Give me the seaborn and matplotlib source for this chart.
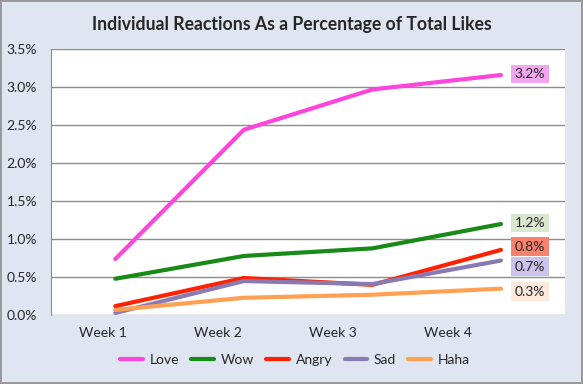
import numpy as np
import pandas as pd
import seaborn as sns
import matplotlib.pyplot as plt

# data (percent of total likes)
weeks = ['Week 1', 'Week 2', 'Week 3', 'Week 4']
love = [0.74, 2.44, 2.97, 3.16]
wow = [0.48, 0.78, 0.88, 1.20]
angry = [0.12, 0.49, 0.40, 0.86]
sad = [0.03, 0.45, 0.41, 0.72]
haha = [0.07, 0.23, 0.27, 0.35]
end_labels = ['3.2%', '1.2%', '0.8%', '0.7%', '0.3%']

series = {'Love': love, 'Wow': wow, 'Angry': angry, 'Sad': sad, 'Haha': haha}
colors = {'Love': '#ff44dd', 'Wow': '#188a18', 'Angry': '#ff2200',
          'Sad': '#8a7ab4', 'Haha': '#ffa052'}
box_colors = {'Love': '#f1a6ef', 'Wow': '#dbe6cf', 'Angry': '#f7826d',
              'Sad': '#cbc3ea', 'Haha': '#fde8dc'}
label_shift = {'Love': 1, 'Wow': 1, 'Angry': 3, 'Sad': -6, 'Haha': -3}

df = pd.DataFrame([(name, i, v) for name, vals in series.items()
                   for i, v in enumerate(vals)], columns=['reaction', 'week', 'pct'])

sns.set_style('white')
plt.rcParams['font.family'] = ['Lato', 'DejaVu Sans']

fig = plt.figure(figsize=(5.83, 3.84), dpi=100)
fig.patch.set_facecolor('#dfe6f1')
fig.patch.set_edgecolor('#9a9a9a')
fig.patch.set_linewidth(1.5)
ax = fig.add_axes([0.0875, 0.179, 0.882, 0.693])

sns.lineplot(data=df, x='week', y='pct', hue='reaction', palette=colors,
             linewidth=3, ax=ax, legend=False)

ax.set_xlim(-0.5, 3.5)
ax.set_ylim(0, 3.5)
yt = np.arange(0, 3.51, 0.5)
ax.set_yticks(yt)
ax.set_yticklabels([f'{t:.1f}%' for t in yt], fontsize=10)
# Excel left the week labels on a narrower category axis than the lines
ax.set_xticks(np.arange(4) * 0.895 - 0.095)
ax.set_xticklabels(weeks, fontsize=10)
ax.tick_params(axis='both', length=0)
ax.tick_params(axis='x', pad=8.5)
ax.tick_params(axis='y', pad=10)
ax.set_xlabel('')
ax.set_ylabel('')
ax.grid(axis='y', color='#8c8c8c', linewidth=1)
ax.set_axisbelow(True)
for s in ['top', 'right', 'bottom']:
    ax.spines[s].set_visible(False)
ax.spines['left'].set_color('#8c8c8c')

for (name, vals), lab in zip(series.items(), end_labels):
    ax.annotate(lab, xy=(3, vals[-1]), xytext=(29, label_shift[name]),
                textcoords='offset pixels', ha='center', va='center',
                fontsize=10, annotation_clip=False,
                bbox=dict(boxstyle='square,pad=0.25', fc=box_colors[name], ec='none'))

fig.suptitle('Individual Reactions As a Percentage of Total Likes',
             y=0.935, va='center', fontsize=12.7, fontweight='bold')

handles = [plt.Line2D([], [], color=colors[n], linewidth=3) for n in series]
fig.legend(handles, list(series), loc='center', bbox_to_anchor=(0.506, 0.063),
           ncol=5, frameon=False, fontsize=10, handlelength=1.65,
           columnspacing=0.9, handletextpad=0.45)

fig.savefig('out.png', dpi=100, facecolor=fig.get_facecolor(),
            edgecolor=fig.patch.get_edgecolor())
